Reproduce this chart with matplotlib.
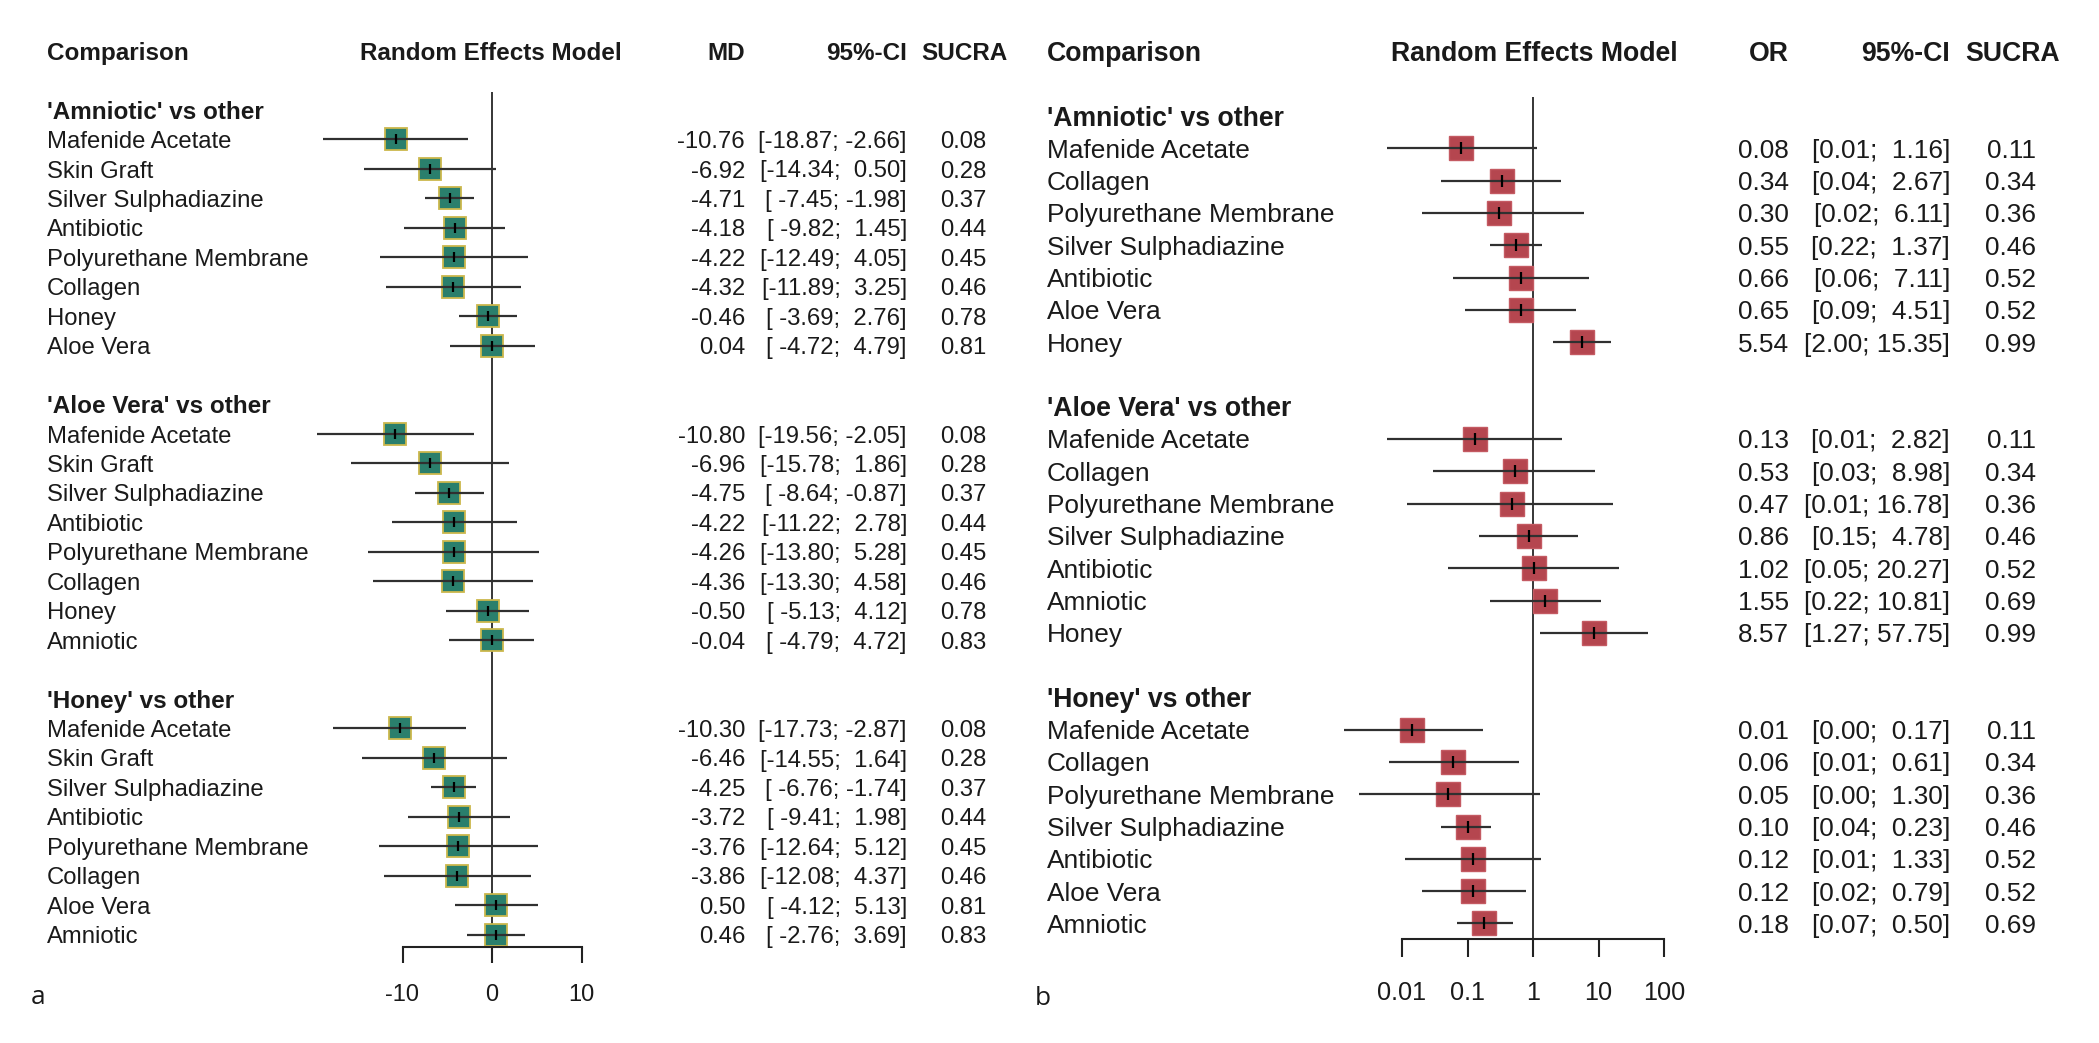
import matplotlib
matplotlib.use("Agg")
import matplotlib.pyplot as plt
from matplotlib.transforms import blended_transform_factory, offset_copy

# ---------------- data ----------------
groups_a = ["'Amniotic' vs other", "'Aloe Vera' vs other", "'Honey' vs other"]
labels_a = [
    ["Mafenide Acetate", "Skin Graft", "Silver Sulphadiazine", "Antibiotic",
     "Polyurethane Membrane", "Collagen", "Honey", "Aloe Vera"],
    ["Mafenide Acetate", "Skin Graft", "Silver Sulphadiazine", "Antibiotic",
     "Polyurethane Membrane", "Collagen", "Honey", "Amniotic"],
    ["Mafenide Acetate", "Skin Graft", "Silver Sulphadiazine", "Antibiotic",
     "Polyurethane Membrane", "Collagen", "Aloe Vera", "Amniotic"],
]
md_a = [
    [-10.76, -6.92, -4.71, -4.18, -4.22, -4.32, -0.46, 0.04],
    [-10.80, -6.96, -4.75, -4.22, -4.26, -4.36, -0.50, -0.04],
    [-10.30, -6.46, -4.25, -3.72, -3.76, -3.86, 0.50, 0.46],
]
lo_a = [
    [-18.87, -14.34, -7.45, -9.82, -12.49, -11.89, -3.69, -4.72],
    [-19.56, -15.78, -8.64, -11.22, -13.80, -13.30, -5.13, -4.79],
    [-17.73, -14.55, -6.76, -9.41, -12.64, -12.08, -4.12, -2.76],
]
hi_a = [
    [-2.66, 0.50, -1.98, 1.45, 4.05, 3.25, 2.76, 4.79],
    [-2.05, 1.86, -0.87, 2.78, 5.28, 4.58, 4.12, 4.72],
    [-2.87, 1.64, -1.74, 1.98, 5.12, 4.37, 5.13, 3.69],
]
sucra_a = [
    [0.08, 0.28, 0.37, 0.44, 0.45, 0.46, 0.78, 0.81],
    [0.08, 0.28, 0.37, 0.44, 0.45, 0.46, 0.78, 0.83],
    [0.08, 0.28, 0.37, 0.44, 0.45, 0.46, 0.81, 0.83],
]
ticks_a = [-10, 0, 10]

groups_b = ["'Amniotic' vs other", "'Aloe Vera' vs other", "'Honey' vs other"]
labels_b = [
    ["Mafenide Acetate", "Collagen", "Polyurethane Membrane", "Silver Sulphadiazine",
     "Antibiotic", "Aloe Vera", "Honey"],
    ["Mafenide Acetate", "Collagen", "Polyurethane Membrane", "Silver Sulphadiazine",
     "Antibiotic", "Amniotic", "Honey"],
    ["Mafenide Acetate", "Collagen", "Polyurethane Membrane", "Silver Sulphadiazine",
     "Antibiotic", "Aloe Vera", "Amniotic"],
]
or_b = [
    [0.08, 0.34, 0.30, 0.55, 0.66, 0.65, 5.54],
    [0.13, 0.53, 0.47, 0.86, 1.02, 1.55, 8.57],
    [0.014, 0.06, 0.05, 0.10, 0.12, 0.12, 0.18],
]
lo_b = [
    [0.006, 0.04, 0.02, 0.22, 0.06, 0.09, 2.00],
    [0.006, 0.03, 0.012, 0.15, 0.05, 0.22, 1.27],
    [0.0013, 0.0063, 0.0022, 0.04, 0.011, 0.02, 0.07],
]
hi_b = [
    [1.16, 2.67, 6.11, 1.37, 7.11, 4.51, 15.35],
    [2.82, 8.98, 16.78, 4.78, 20.27, 10.81, 57.75],
    [0.17, 0.61, 1.30, 0.23, 1.33, 0.79, 0.50],
]
sucra_b = [
    [0.11, 0.34, 0.36, 0.46, 0.52, 0.52, 0.99],
    [0.11, 0.34, 0.36, 0.46, 0.52, 0.69, 0.99],
    [0.11, 0.34, 0.36, 0.46, 0.52, 0.52, 0.69],
]
ticks_b = [0.01, 0.1, 1, 10, 100]
ticklabels_b = ["0.01", "0.1", "1", "10", "100"]

# ---------------- figure ----------------
W, H = 2099, 1043
FONT = ["Liberation Sans", "DejaVu Sans"]
plt.rcParams["font.family"] = FONT
fig = plt.figure(figsize=(W / 100, H / 100), dpi=100)
fig.patch.set_facecolor("white")


def px_axes(x0, x1, y0, y1):
    return fig.add_axes([x0 / W, 1 - y1 / H, (x1 - x0) / W, (y1 - y0) / H])


def put(ax, xpx, row, s, fs, ha="left", bold=False):
    # baseline placed so that the cap-height centre sits on the row
    tr = offset_copy(blended_transform_factory(fig.transFigure, ax.transData),
                     fig=fig, x=0, y=-0.36 * fs, units="points")
    ax.text(xpx / W, row, s, transform=tr, fontsize=fs, ha=ha, va="baseline",
            fontweight="bold" if bold else "normal", color="#1a1a1a")


def ci_strings(lo, hi):
    los = [f"{v:.2f}" for g in lo for v in g]
    his = [f"{v:.2f}" for g in hi for v in g]
    wl = max(len(s) for s in los)
    wh = max(len(s) for s in his)
    return [["[" + f"{l:.2f}".rjust(wl) + "; " + f"{h:.2f}".rjust(wh) + "]"
             for l, h in zip(gl, gh)] for gl, gh in zip(lo, hi)]


def forest(ax, groups, labels, est, lo, hi, sucra, row_px0, row_px, ax_top, ax_bot,
           xcols, fs, hfs, effname, sq_ms, sq_fc, sq_ec, sq_ew, logx,
           zero_px, unit_px, ax_x0, ax_x1, ticks, ticklabels, tfs, tlen, tpad,
           ref_top_px, per_group):
    ax.set_ylim((ax_bot - row_px0) / row_px, (ax_top - row_px0) / row_px)
    if logx:
        ax.set_xscale("log")
        ax.set_xlim(10 ** ((ax_x0 - zero_px) / unit_px), 10 ** ((ax_x1 - zero_px) / unit_px))
        ref = 1
    else:
        ax.set_xlim((ax_x0 - zero_px) / unit_px, (ax_x1 - zero_px) / unit_px)
        ref = 0
    ax.patch.set_alpha(0)
    for s in ["top", "left", "right"]:
        ax.spines[s].set_visible(False)
    ax.spines["bottom"].set_bounds(ticks[0], ticks[-1])
    ax.spines["bottom"].set_linewidth(1.5)
    ax.spines["bottom"].set_color("#222222")
    ax.set_yticks([])
    ax.set_xticks(ticks)
    ax.set_xticklabels(ticklabels)
    ax.minorticks_off()
    ax.tick_params(axis="x", direction="out", length=tlen, width=1.5, pad=tpad,
                   labelsize=tfs, color="#222222", labelcolor="#1a1a1a")
    ax.yaxis.set_visible(False)

    ybot = ax.get_ylim()[0]
    ax.vlines(ref, (ref_top_px - row_px0) / row_px, ybot, color="black", lw=1.1,
              zorder=1, clip_on=False)

    ci = ci_strings(lo, hi)
    xl, xe, xc, xs = xcols
    hrow = -2
    put(ax, xl, hrow, "Comparison", hfs, "left", True)
    put(ax, xe[0], hrow, "Random Effects Model", hfs, "center", True)
    put(ax, xe[1], hrow, effname, hfs, "right", True)
    put(ax, xc, hrow, "95%-CI", hfs, "right", True)
    put(ax, xs[0], hrow, "SUCRA", hfs, "center", True)

    for g in range(len(groups)):
        base = g * per_group
        put(ax, xl, base, groups[g], hfs, "left", True)
        rows = [base + 1 + i for i in range(len(labels[g]))]
        ax.plot(est[g], rows, "s", ms=sq_ms, mfc=sq_fc, mec=sq_ec, mew=sq_ew,
                zorder=2, clip_on=False)
        ax.hlines(rows, lo[g], hi[g], color="#303030", lw=1.6, zorder=3, clip_on=False)
        ax.plot(est[g], rows, "|", ms=sq_ms * 0.5, color="black", mew=1.6, zorder=4,
                clip_on=False)
        for i, r in enumerate(rows):
            put(ax, xl, r, labels[g][i], fs, "left")
            put(ax, xe[1], r, f"{est[g][i]:.2f}", fs, "right")
            put(ax, xc, r, ci[g][i], fs, "right")
            put(ax, xs[1], r, f"{sucra[g][i]:.2f}", fs, "center")


# panel a
ax_a = px_axes(300, 660, 80, 947)
forest(ax_a, groups_a, labels_a, md_a, lo_a, hi_a, sucra_a,
       row_px0=110, row_px=29.45, ax_top=80, ax_bot=947,
       xcols=(47, (491, 745), 907, (964, 963)), fs=17.2, hfs=17.5,
       effname="MD", sq_ms=15.5, sq_fc="#2a7f6c", sq_ec="#cbb84c", sq_ew=1.3,
       logx=False, zero_px=492, unit_px=8.95, ax_x0=300, ax_x1=660,
       ticks=ticks_a, ticklabels=[str(t) for t in ticks_a], tfs=17, tlen=11.5,
       tpad=15, ref_top_px=92, per_group=10)

# panel b
ax_b = px_axes(1330, 1730, 85, 939)
forest(ax_b, groups_b, labels_b, or_b, lo_b, hi_b, sucra_b,
       row_px0=116, row_px=32.3, ax_top=85, ax_bot=939,
       xcols=(1047, (1534, 1789), 1950, (2013, 2011)), fs=18.9, hfs=19.2,
       effname="OR", sq_ms=16.8, sq_fc="#b5464f", sq_ec="#c45a62", sq_ew=1.0,
       logx=True, zero_px=1533, unit_px=65.5, ax_x0=1330, ax_x1=1730,
       ticks=ticks_b, ticklabels=ticklabels_b, tfs=18.2, tlen=13, tpad=17,
       ref_top_px=97, per_group=9)

# panel letters
fig.text(31 / W, 1 - 1004 / H, "a", fontsize=19, ha="left", va="baseline",
         family=["Open Sans", "DejaVu Sans"], color="#1a1a1a")
fig.text(1035 / W, 1 - 1005 / H, "b", fontsize=19, ha="left", va="baseline",
         family=["Open Sans", "DejaVu Sans"], color="#1a1a1a")

fig.savefig("out.png", dpi=100, facecolor="white")
